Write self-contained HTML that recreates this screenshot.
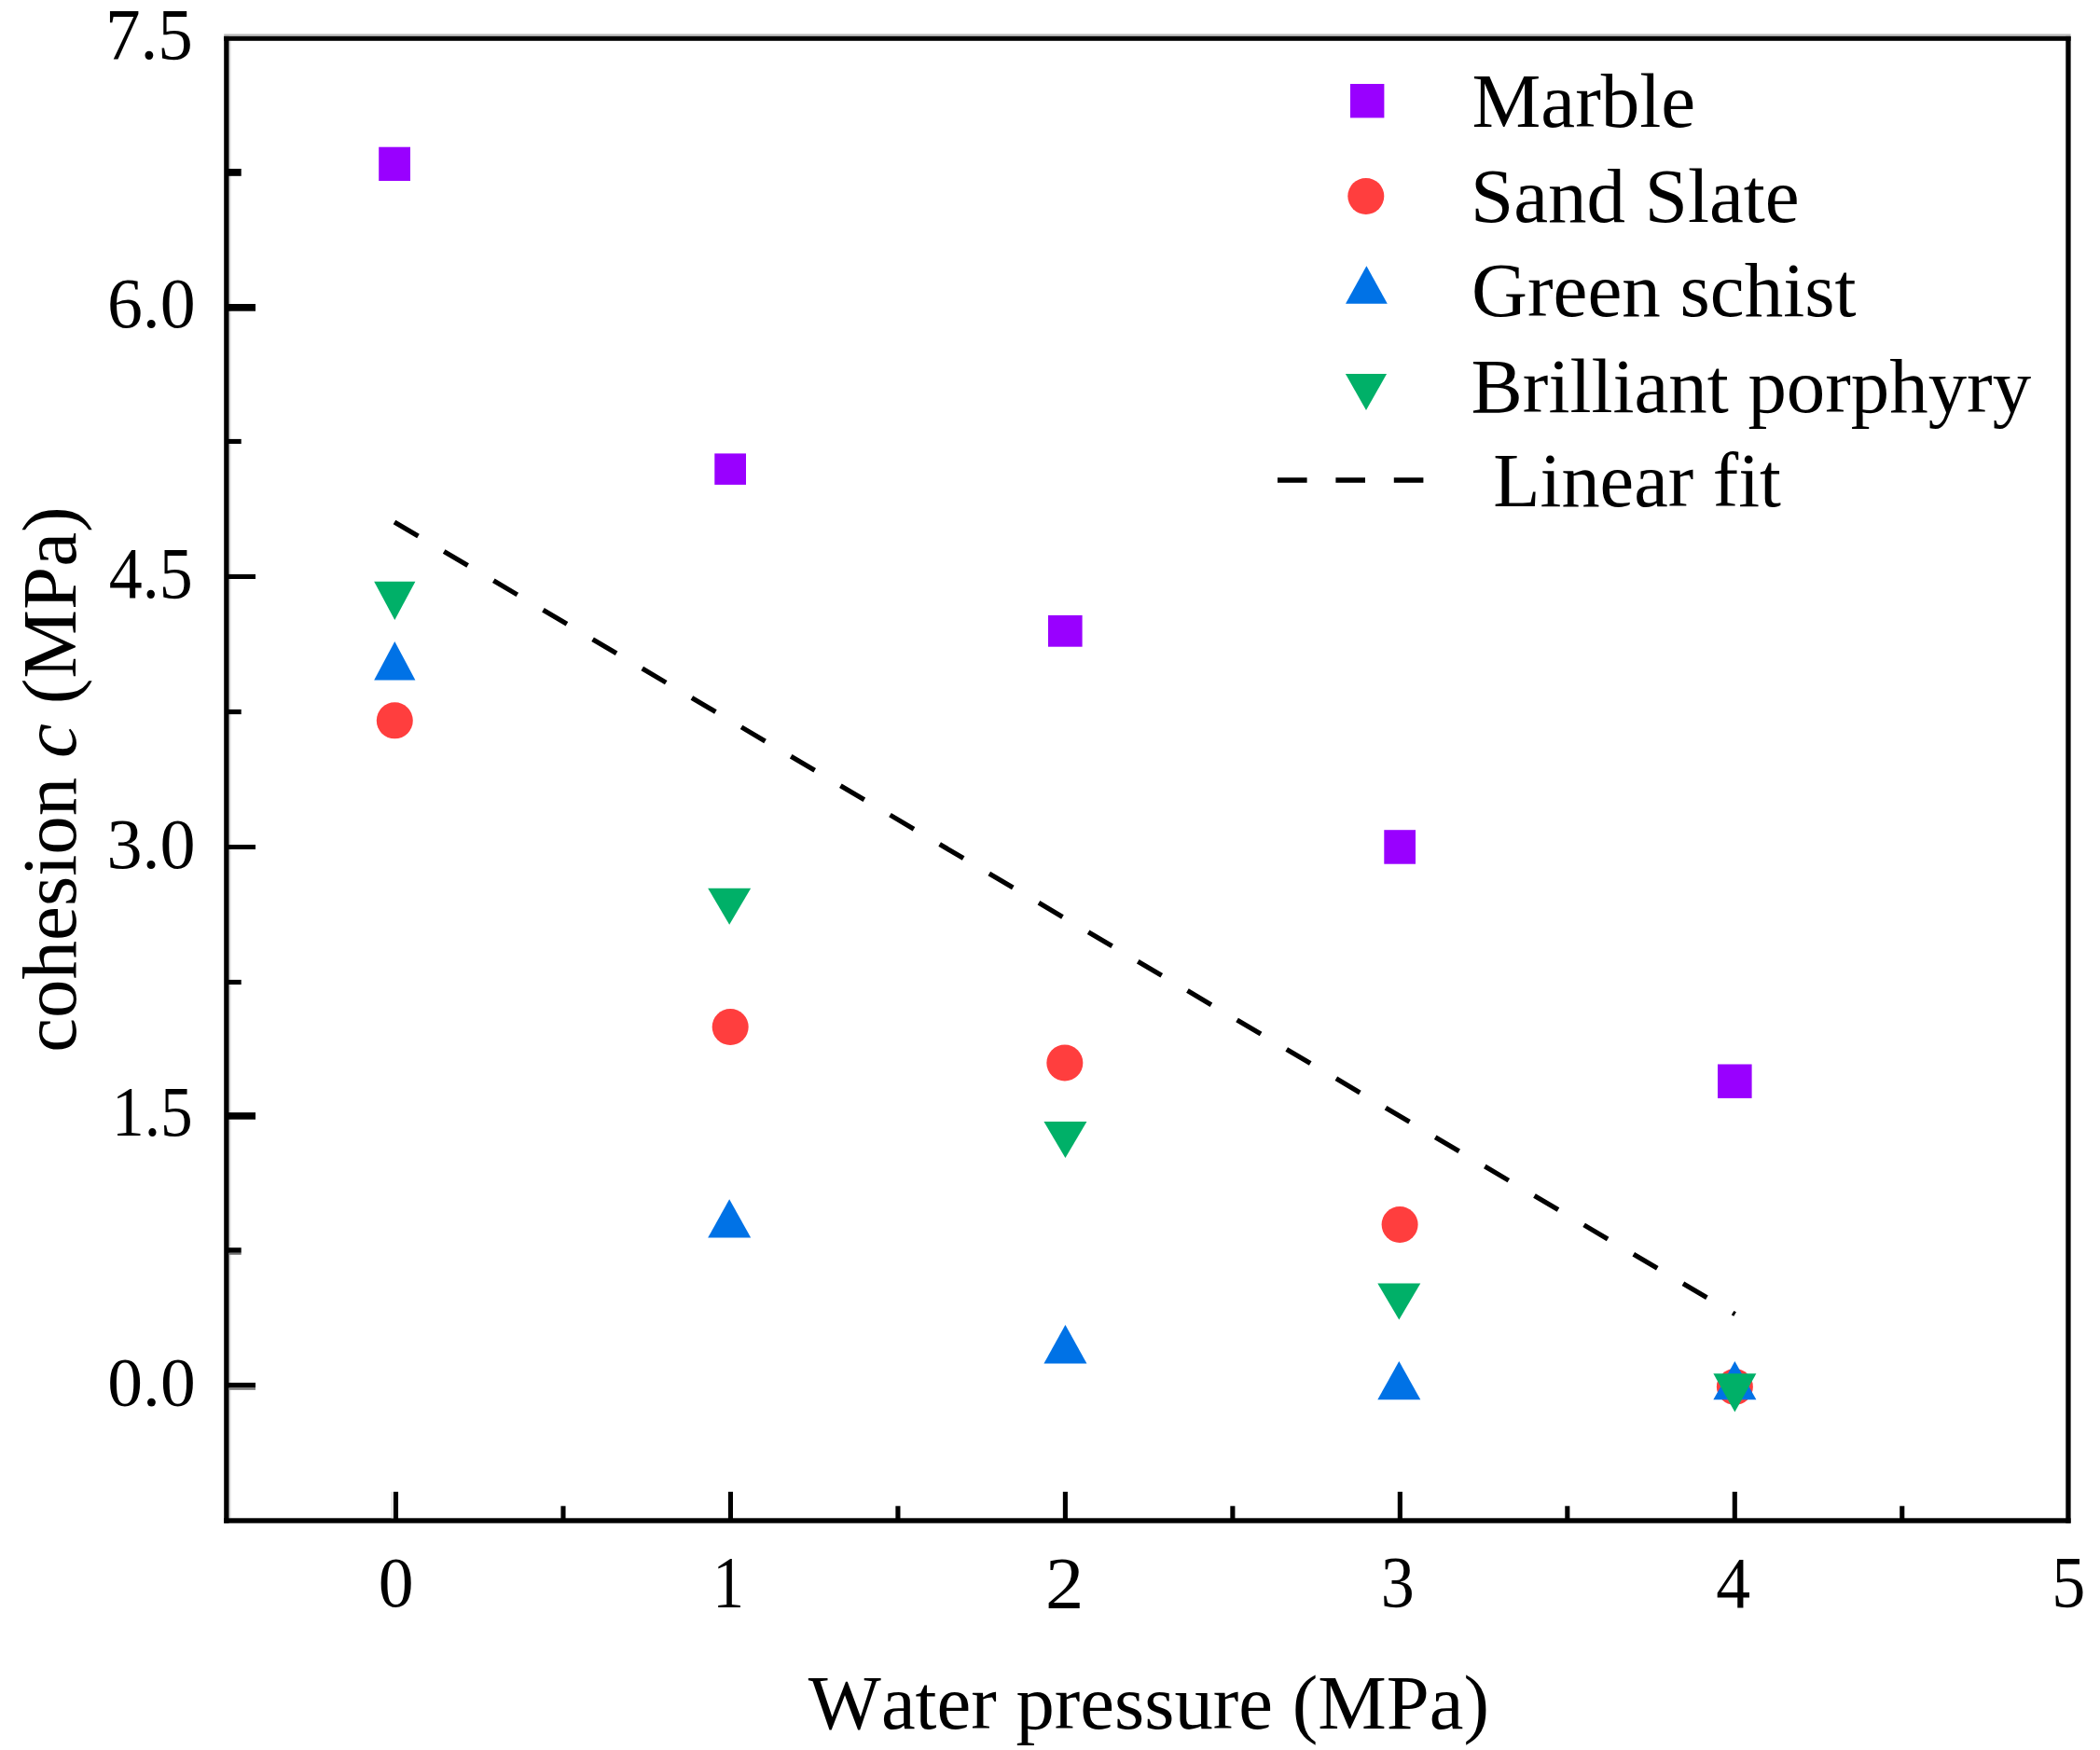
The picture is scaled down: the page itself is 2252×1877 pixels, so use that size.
<!DOCTYPE html>
<html lang="en"><head><meta charset="utf-8"><title>Cohesion vs water pressure</title>
<style>
html,body{margin:0;padding:0;background:#fff;}
body{width:2252px;height:1877px;overflow:hidden;}
svg{display:block;}
text{font-family:"Liberation Serif","Times New Roman",Times,serif;fill:#000;font-kerning:none;font-variant-ligatures:none;}
</style></head><body>
<svg width="2252" height="1877" viewBox="0 0 2252 1877">
<rect x="0" y="0" width="2252" height="1877" fill="#fff"/>
<g>
<rect x="240.2" y="36.4" width="1980.4" height="2.6" fill="#b9b9b9"/>
<rect x="245.3" y="43.8" width="2.3" height="1584.5" fill="#dedede"/>
</g>
<g fill="#000">
<rect x="240.2" y="38.9" width="5.3" height="1594.8"/>
<rect x="2215.3" y="38.9" width="5.3" height="1594.8"/>
<rect x="240.2" y="38.9" width="1980.4" height="4.9"/>
<rect x="240.2" y="1628.3" width="1980.4" height="5.4"/>
<rect x="244.5" y="326.00" width="29.5" height="7.70"/>
<rect x="244.5" y="615.90" width="29.5" height="5.10"/>
<rect x="244.5" y="906.00" width="29.5" height="5.00"/>
<rect x="244.5" y="1193.20" width="29.5" height="7.50"/>
<rect x="244.5" y="1483.10" width="29.5" height="5.50"/>
<rect x="244.5" y="181.00" width="14.2" height="7.80"/>
<rect x="244.5" y="470.90" width="14.2" height="5.10"/>
<rect x="244.5" y="760.90" width="14.2" height="5.20"/>
<rect x="244.5" y="1050.90" width="14.2" height="5.10"/>
<rect x="244.5" y="1338.20" width="14.2" height="5.60"/>
<rect x="245.5" y="1488.6" width="28.5" height="2.3" fill="#858585"/>
<rect x="245.5" y="1343.8" width="13.2" height="2.0" fill="#707070"/>
<rect x="421.95" y="1600.0" width="5.1" height="29.3"/>
<rect x="780.90" y="1600.0" width="5.1" height="29.3"/>
<rect x="1139.85" y="1600.0" width="5.1" height="29.3"/>
<rect x="1498.80" y="1600.0" width="5.1" height="29.3"/>
<rect x="1857.75" y="1600.0" width="5.1" height="29.3"/>
<rect x="601.43" y="1615.3" width="5.1" height="14.0"/>
<rect x="960.38" y="1615.3" width="5.1" height="14.0"/>
<rect x="1319.33" y="1615.3" width="5.1" height="14.0"/>
<rect x="1678.28" y="1615.3" width="5.1" height="14.0"/>
<rect x="2037.22" y="1615.3" width="5.1" height="14.0"/>
<rect x="419.4" y="1600" width="2.6" height="28.3" fill="#e4e4e4"/>
</g>
<line x1="423.0" y1="560.0" x2="1860.6" y2="1409.6" stroke="#000" stroke-width="5.2" stroke-dasharray="29.6 32.14" fill="none"/>
<g>
<rect x="406.20" y="157.70" width="33.80" height="36.30" fill="#9900FF"/>
<rect x="766.30" y="486.40" width="33.70" height="33.50" fill="#9900FF"/>
<rect x="1124.00" y="659.90" width="36.60" height="33.80" fill="#9900FF"/>
<rect x="1484.30" y="890.20" width="33.70" height="36.50" fill="#9900FF"/>
<rect x="1842.00" y="1141.50" width="36.60" height="36.40" fill="#9900FF"/>
<circle cx="423.30" cy="772.87" r="19.50" fill="#FF3E3E"/>
<circle cx="783.17" cy="1101.51" r="19.50" fill="#FF3E3E"/>
<circle cx="1141.84" cy="1140.04" r="19.50" fill="#FF3E3E"/>
<circle cx="1501.11" cy="1313.45" r="19.50" fill="#FF3E3E"/>
<circle cx="1860.38" cy="1487.55" r="19.50" fill="#FF3E3E"/>
<polygon points="423.30,688.07 445.40,729.47 401.20,729.47" fill="#0072E6"/>
<polygon points="782.17,1286.20 805.17,1327.60 759.17,1327.60" fill="#0072E6"/>
<polygon points="1142.44,1421.07 1165.44,1462.47 1119.44,1462.47" fill="#0072E6"/>
<polygon points="1500.31,1459.95 1523.31,1501.35 1477.31,1501.35" fill="#0072E6"/>
<polygon points="1860.38,1459.95 1883.38,1501.35 1837.38,1501.35" fill="#0072E6"/>
<polygon points="401.20,623.74 445.40,623.74 423.30,665.04" fill="#00B068"/>
<polygon points="759.17,952.64 805.17,952.64 782.17,991.64" fill="#00B068"/>
<polygon points="1119.44,1203.11 1165.44,1203.11 1142.44,1242.11" fill="#00B068"/>
<polygon points="1477.31,1376.51 1523.31,1376.51 1500.31,1415.51" fill="#00B068"/>
<polygon points="1837.38,1473.28 1883.38,1473.28 1860.38,1514.58" fill="#00B068"/>
</g>
<g>
<rect x="1448.00" y="90.00" width="36.40" height="36.40" fill="#9900FF"/>
<circle cx="1464.80" cy="210.40" r="19.50" fill="#FF3E3E"/>
<polygon points="1465.40,285.13 1487.80,325.73 1443.00,325.73" fill="#0072E6"/>
<polygon points="1442.90,401.10 1487.10,401.10 1465.00,440.10" fill="#00B068"/>
<line x1="1370" y1="515" x2="1540" y2="515" stroke="#000" stroke-width="5.6" stroke-dasharray="31.6 30.8"/>
</g>
<text x="208.5" y="64.0" font-size="76.6" text-anchor="end" transform="matrix(0.9804 0 0 1.0118 2.42 -1.46)" id="y7_5">7.5</text>
<text x="208.5" y="353.0" font-size="76.6" text-anchor="end" transform="matrix(0.9899 0 0 0.9870 3.29 2.39)" id="y6_0">6.0</text>
<text x="208.5" y="642.0" font-size="76.6" text-anchor="end" transform="matrix(0.9392 0 0 1.0157 10.88 -11.29)" id="y4_5">4.5</text>
<text x="208.5" y="931.0" font-size="76.6" text-anchor="end" transform="matrix(0.9940 0 0 1.0062 2.45 -5.95)" id="y3_0">3.0</text>
<text x="208.5" y="1220.0" font-size="76.6" text-anchor="end" transform="matrix(0.9044 0 0 0.9882 18.03 12.26)" id="y1_5">1.5</text>
<text x="208.5" y="1509.0" font-size="76.6" text-anchor="end" transform="matrix(0.9856 0 0 0.9793 4.17 30.20)" id="y0_0">0.0</text>
<text x="424.4" y="1723.0" font-size="76.6" text-anchor="middle" transform="matrix(0.9884 0 0 1.0037 5.13 -6.46)" id="x0">0</text>
<text x="783.7" y="1723.0" font-size="76.6" text-anchor="middle" transform="matrix(0.8800 0 0 1.0160 91.47 -27.57)" id="x1">1</text>
<text x="1142.9" y="1723.0" font-size="76.6" text-anchor="middle" transform="matrix(1.0789 0 0 1.0183 -91.40 -30.99)" id="x2">2</text>
<text x="1502.2" y="1723.0" font-size="76.6" text-anchor="middle" transform="matrix(0.9405 0 0 1.0122 85.83 -20.65)" id="x3">3</text>
<text x="1861.5" y="1723.0" font-size="76.6" text-anchor="middle" transform="matrix(0.9637 0 0 1.0280 64.89 -47.64)" id="x4">4</text>
<text x="2220.8" y="1723.0" font-size="76.6" text-anchor="middle" transform="matrix(0.9426 0 0 1.0216 125.01 -36.88)" id="x5">5</text>
<text x="1231.9" y="1854" font-size="82.7" text-anchor="middle" id="xt">Water pressure (MPa)</text>
<text x="0" y="0" font-size="83" text-anchor="middle" transform="translate(80.6 836) rotate(-90)" id="yt">cohesion <tspan font-style="italic">c</tspan> (MPa)</text>
<text x="1578.5" y="136.4" font-size="83" id="l1">Marble</text>
<text x="1577" y="237.9" font-size="83" id="l2">Sand Slate</text>
<text x="1578" y="338.8" font-size="83" id="l3">Green schist</text>
<text x="1577.6" y="441.6" font-size="82.85" id="l4">Brilliant porphyry</text>
<text x="1601.2" y="543" font-size="82.4" id="l5">Linear fit</text>
</svg></body></html>
